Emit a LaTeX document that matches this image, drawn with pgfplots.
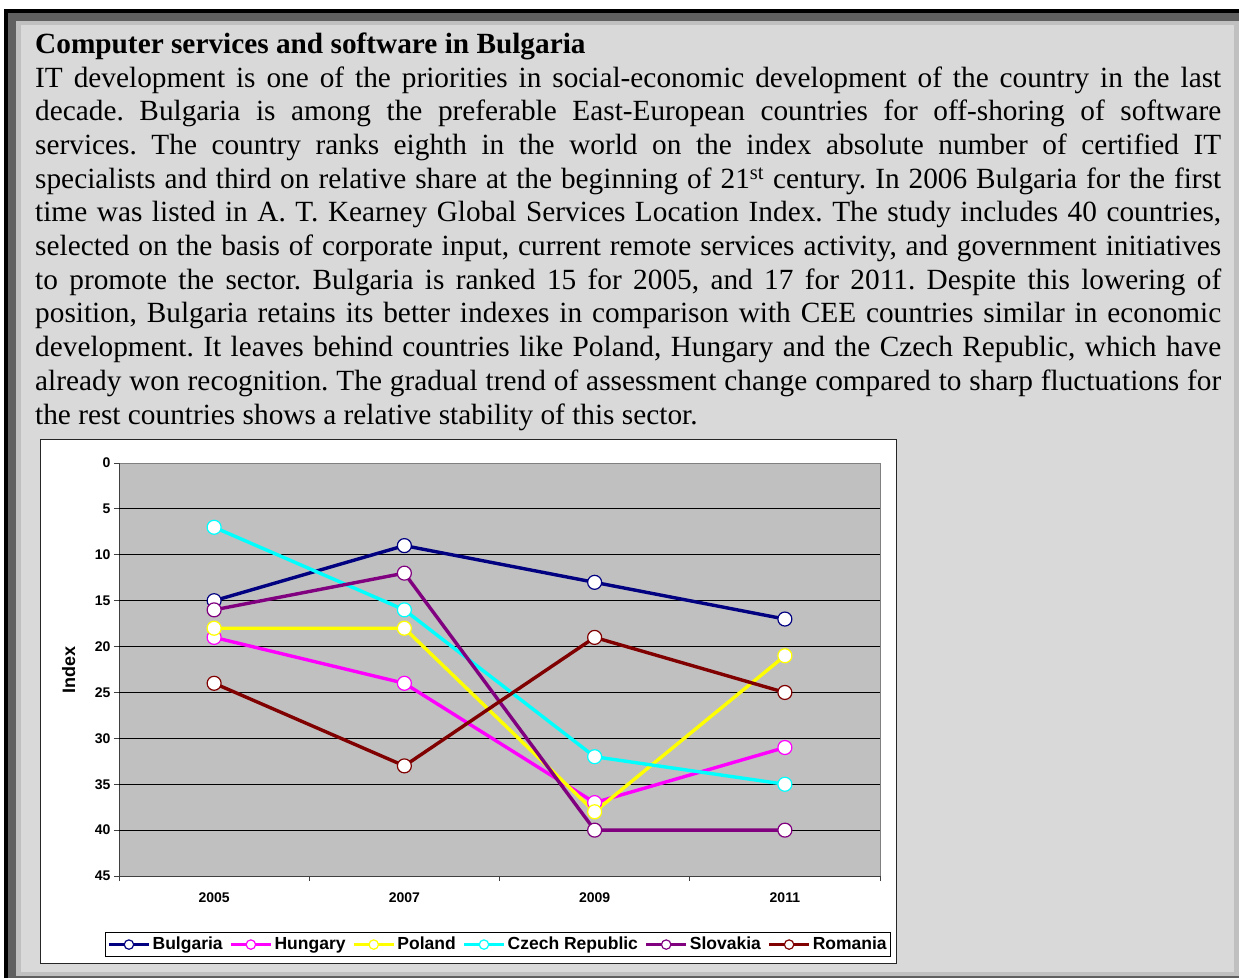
\documentclass[border=0pt]{standalone}
\usepackage{fontspec}
\setmainfont{Liberation Serif}
\newfontfamily\arial{Liberation Sans}
\usepackage{pgfplots}
\pgfplotsset{compat=1.18}
\frenchspacing

\definecolor{bgdark}{HTML}{606060}
\definecolor{bgmid}{HTML}{C0C0C0}
\definecolor{bglight}{HTML}{D9D9D9}
\definecolor{plotbg}{HTML}{C0C0C0}
\definecolor{cBul}{HTML}{000080}
\definecolor{cHun}{HTML}{FF00FF}
\definecolor{cPol}{HTML}{FFFF00}
\definecolor{cCze}{HTML}{00FFFF}
\definecolor{cSlo}{HTML}{800080}
\definecolor{cRom}{HTML}{800000}

% one justified line of the paragraph, baseline at y
\newcommand{\tline}[2]{\node[anchor=base west, inner sep=0pt, font=\fontsize{29.3}{34}\selectfont] at (35,#1) {\makebox[1186pt][s]{#2}};}

\begin{document}
\begin{tikzpicture}[x=1pt,y=-1pt]
% page frame
\fill[white] (0,0) rectangle (1239,978);
\fill[black] (4,9) rectangle (1239,978);
\fill[bgdark] (8,13) rectangle (1239,978);
\fill[bgmid] (16,21) rectangle (1239,976);
\fill[bglight] (21,25) rectangle (1234,972);

% text
\node[anchor=base west, inner sep=0pt, font=\fontsize{29.3}{34}\selectfont\bfseries] at (35,53.5) {Computer services and software in Bulgaria};
\tline{87}{IT development is one of the priorities in social-economic development of the country in the last}
\tline{120.7}{decade. Bulgaria is among the preferable East-European countries for off-shoring of software}
\tline{154.4}{services. The country ranks eighth in the world on the index absolute number of certified IT}
\tline{188.1}{specialists and third on relative share at the beginning of 21\textsuperscript{st} century. In 2006 Bulgaria for the first}
\tline{221.8}{time was listed in A. T. Kearney Global Services Location Index. The study includes 40 countries,}
\tline{255.5}{selected on the basis of corporate input, current remote services activity, and government initiatives}
\tline{289.2}{to promote the sector. Bulgaria is ranked 15 for 2005, and 17 for 2011. Despite this lowering of}
\tline{322.9}{position, Bulgaria retains its better indexes in comparison with CEE countries similar in economic}
\tline{356.6}{development. It leaves behind countries like Poland, Hungary and the Czech Republic, which have}
\tline{390.3}{already won recognition. The gradual trend of assessment change compared to sharp fluctuations for}
\node[anchor=base west, inner sep=0pt, font=\fontsize{29.3}{34}\selectfont] at (35,424) {the rest countries shows a relative stability of this sector.};

% chart box
\filldraw[fill=white, draw=black!85, line width=1pt] (40.5,439) rectangle (896.5,963);
\coordinate (plotSW) at (119,876);

\begin{axis}[
    at={(plotSW)}, anchor=south west,
    scale only axis, width=761pt, height=413pt,
    xmin=0, xmax=4, ymin=0, ymax=45,
    y dir=reverse,
    axis x line*=bottom, axis y line*=left,
    axis line style={black!75, line width=1pt},
    axis background/.style={fill=plotbg, draw=black!50, line width=1pt},
    xtick={0.5,1.5,2.5,3.5},
    xticklabels={2005,2007,2009,2011},
    xticklabel style={yshift=-8pt},
    major x tick style={draw=none},
    minor xtick={0,1,2,3,4},
    minor tick length=5pt,
    ytick={0,5,...,45},
    major tick length=5pt,
    tick align=outside,
    tick style={black!75, line width=1pt},
    extra y ticks={5,10,...,40},
    extra y tick labels={},
    extra y tick style={grid=major, major tick length=0pt},
    major grid style={black, line width=1pt},
    tick label style={font=\arial\bfseries\fontsize{14}{14}\selectfont},
    /pgf/number format/assume math mode=true,
    ylabel={Index},
    ylabel style={font=\arial\bfseries\fontsize{18}{18}\selectfont, at={(axis description cs:-0.066,0.5)}, anchor=center},
    legend columns=6,
    legend style={at={(axis description cs:0.498,-0.166)}, anchor=center, draw=black, line width=0.8pt, fill=white,
        font=\arial\bfseries\fontsize{17.5}{17.5}\selectfont, inner sep=2pt,
        nodes={text height=12.5pt, text depth=3.5pt},
        /tikz/every even column/.append style={column sep=4.5pt}},
    legend image code/.code={\draw[mark repeat=2, mark phase=2, #1, mark size=4.7pt] plot coordinates {(0pt,0pt) (20pt,0pt) (40pt,0pt)};},
    every axis plot/.append style={line width=3.4pt, mark=*, mark size=7pt,
        mark options={fill=white, solid, line width=1.2pt}},
]
\addplot[color=cBul] coordinates {(0.5,15) (1.5,9) (2.5,13) (3.5,17)};
\addlegendentry{Bulgaria}
\addplot[color=cHun] coordinates {(0.5,19) (1.5,24) (2.5,37) (3.5,31)};
\addlegendentry{Hungary}
\addplot[color=cPol] coordinates {(0.5,18) (1.5,18) (2.5,38) (3.5,21)};
\addlegendentry{Poland}
\addplot[color=cCze] coordinates {(0.5,7) (1.5,16) (2.5,32) (3.5,35)};
\addlegendentry{Czech Republic}
\addplot[color=cSlo] coordinates {(0.5,16) (1.5,12) (2.5,40) (3.5,40)};
\addlegendentry{Slovakia}
\addplot[color=cRom] coordinates {(0.5,24) (1.5,33) (2.5,19) (3.5,25)};
\addlegendentry{Romania}
\end{axis}
\end{tikzpicture}
\end{document}
